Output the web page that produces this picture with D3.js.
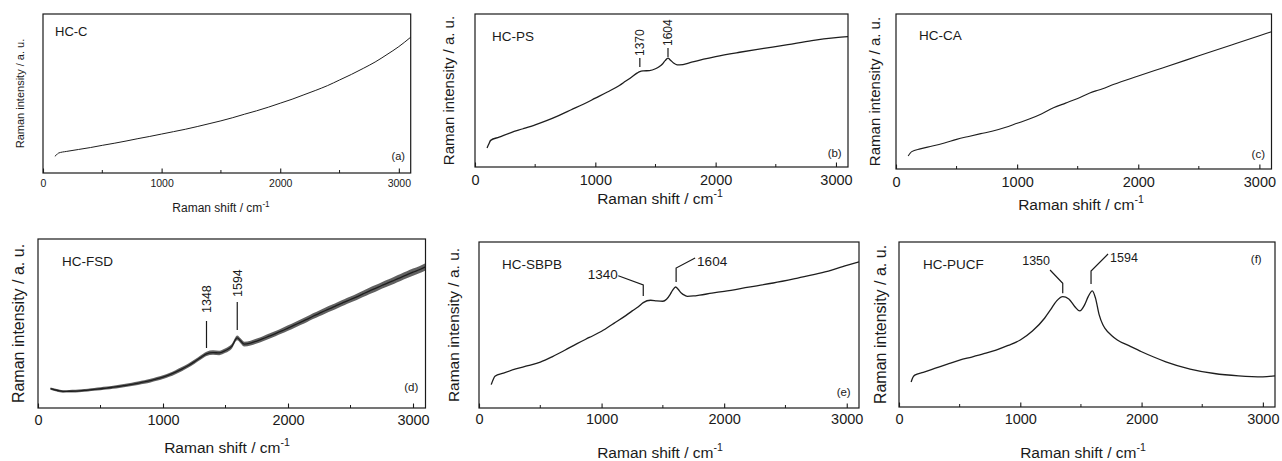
<!DOCTYPE html>
<html>
<head>
<meta charset="utf-8">
<script src="https://cdn.jsdelivr.net/npm/d3@7/dist/d3.min.js"></script>
<style>
  html, body { margin: 0; padding: 0; background: #fff; }
  svg { display: block; }
  text { font-family: "Liberation Sans", Arial, sans-serif; fill: #1a1a1a; }
</style>
</head>
<body>
<svg id="chart" width="1282" height="461"></svg>
<script>
// Raman spectra of six hard-carbon samples (relative intensity, arbitrary units)
const xTicks = [0, 1000, 2000, 3000];
const xMinorTicks = [500, 1500, 2500];
const xLabel = "Raman shift / cm";
const yLabel = "Raman intensity / a. u.";

const shiftA = [100,115,130,200,300,400,500,600,700,800,900,1000,1100,1200,1300,1400,1500,1600,1700,1800,1900,2000,2100,2200,2300,2400,2500,2600,2700,2800,2900,3000,3100];
const intensityA = [10.5,11.5,12.5,13.6,14.8,16.0,17.4,18.7,20.1,21.6,23.0,24.5,26.0,27.5,29.2,31.0,32.8,34.8,37.0,39.1,41.4,43.9,46.4,49.2,52.0,55.0,58.5,62.0,65.8,69.8,74.5,79.5,85.4];

const shiftB = [100,115,130,200,300,400,500,600,700,800,900,1000,1100,1200,1250,1300,1350,1370,1400,1450,1500,1530,1560,1580,1604,1625,1650,1680,1700,1800,1900,2000,2200,2400,2600,2800,3000,3100];
const intensityB = [12.4,15.0,17.4,19.5,22.5,25.0,27.6,30.5,33.8,37.4,41.0,45.0,49.0,53.3,56.0,58.7,61.5,62.4,62.8,63.0,64.2,65.5,67.5,69.5,71.1,69.8,68.0,66.8,66.7,68.5,70.5,72.2,75.0,77.5,80.0,82.6,84.5,85.2];
const peaksB = [1370, 1604];

const shiftC = [100,115,130,200,300,400,500,600,700,800,900,1000,1100,1200,1300,1400,1500,1600,1650,1700,1800,2000,2200,2400,2600,2800,3000,3100];
const intensityC = [8.4,10.0,11.2,13.0,14.8,16.8,19.1,21.0,22.8,24.5,26.8,29.5,32.2,35.5,39.5,42.5,45.5,49.0,50.4,51.6,54.7,60.0,65.2,70.4,75.6,80.8,86.0,88.6];

const shiftD = [100,150,200,250,300,350,400,450,500,550,600,650,700,750,800,850,900,950,1000,1050,1100,1150,1200,1250,1300,1348,1400,1450,1500,1550,1594,1620,1650,1700,1750,1800,1850,1900,1950,2000,2050,2100,2150,2200,2250,2300,2350,2400,2450,2500,2550,2600,2650,2700,2750,2800,2850,2900,2950,3000,3050,3100];
const intensityD = [11.5,10.5,9.8,9.9,10.0,10.3,10.6,11.0,11.4,11.8,12.3,12.8,13.4,14.0,14.7,15.4,16.2,17.2,18.3,19.6,21.2,23.0,25.0,27.3,29.8,32.0,32.8,32.6,34.0,36.5,41.5,39.8,37.8,38.4,39.6,41.0,42.5,44.0,45.6,47.3,49.0,50.7,52.4,54.3,56.0,57.7,59.3,61.0,62.6,64.2,65.8,67.5,69.2,70.8,72.5,74.0,75.6,77.2,78.8,80.4,81.8,83.5];
const peaksD = [1348, 1594];

const shiftE = [100,115,130,200,300,400,500,600,700,800,900,1000,1100,1200,1250,1300,1340,1400,1450,1500,1530,1560,1580,1604,1625,1650,1680,1700,1750,1800,1900,2000,2200,2400,2600,2800,3000,3100];
const intensityE = [14.1,17.0,19.1,21.0,23.5,25.5,27.7,31.0,34.8,38.8,42.5,46.2,51.0,55.8,58.5,61.0,63.5,64.9,64.5,64.3,65.5,68.5,71.0,72.9,71.5,69.3,67.8,67.3,67.5,68.0,69.2,70.3,72.8,75.3,78.3,81.5,85.9,88.0];
const peaksE = [1340, 1604];

const shiftF = [100,115,130,200,300,400,500,600,700,800,900,1000,1100,1200,1250,1300,1350,1400,1450,1490,1530,1560,1594,1620,1650,1680,1700,1750,1800,1900,2000,2100,2200,2400,2600,2800,3000,3100];
const intensityF = [15.2,18.0,19.3,21.0,23.5,26.0,28.4,30.3,32.3,34.5,37.3,40.6,46.0,53.8,59.0,64.3,66.9,65.5,60.8,58.2,61.9,66.9,70.4,66.0,56.0,50.0,47.5,43.5,40.6,37.0,33.5,30.3,27.4,23.0,20.3,18.9,18.3,18.9];
const peaksF = [1350, 1594];

// Panel geometry and typography
const panels = [
  { shift: shiftA, value: intensityA, name: "HC-C", letter: "(a)", stroke: 1.0,
    box: [43, 14, 410.7, 173], tickFs: 10.5, titleFs: 12, yFs: 11, nameFs: 13, letterFs: 11,
    tickDy: 14, titleDy: 39, titleX: 221, yX: 20, nameXY: [55, 36], letterXY: [405, 160] },
  { shift: shiftB, value: intensityB, name: "HC-PS", letter: "(b)", peaks: peaksB, peakStyle: "rotTick", stroke: 1.3,
    box: [475, 14, 848, 167], tickFs: 14.5, titleFs: 15.5, yFs: 15, nameFs: 13.5, letterFs: 11.5,
    tickDy: 18, titleDy: 37, titleX: 660, yX: 449, nameXY: [492, 40.5], letterXY: [841.7, 157],
    peakGeom: [{ line: [58, 67], textStart: 56 }, { line: [48, 57], textStart: 46 }], peakFs: 12 },
  { shift: shiftC, value: intensityC, name: "HC-CA", letter: "(c)", stroke: 1.1,
    box: [896, 14, 1271.5, 169], tickFs: 14.5, titleFs: 15.5, yFs: 15, nameFs: 13.5, letterFs: 11.5,
    tickDy: 18, titleDy: 41, titleX: 1081, yX: 875, nameXY: [919, 40], letterXY: [1265, 158] },
  { shift: shiftD, value: intensityD, name: "HC-FSD", letter: "(d)", peaks: peaksD, peakStyle: "rotLine", noisy: true, stroke: 1.3,
    box: [38, 239, 425.5, 408], tickFs: 14.5, titleFs: 15.5, yFs: 16, nameFs: 13.5, letterFs: 11.5,
    tickDy: 17, titleDy: 45, titleX: 227, yX: 18.5, nameXY: [62, 265.5], letterXY: [418.3, 391],
    peakGeom: [{ line: [321, 348], textStart: 313 }, { line: [302, 330], textStart: 297 }], peakFs: 12.5 },
  { shift: shiftE, value: intensityE, name: "HC-SBPB", letter: "(e)", peaks: peaksE, peakStyle: "leader", stroke: 1.3,
    box: [479, 242, 859, 408], tickFs: 14.5, titleFs: 15.5, yFs: 15.5, nameFs: 13.5, letterFs: 11.5,
    tickDy: 16, titleDy: 50, titleX: 660, yX: 453, nameXY: [502, 268.5], letterXY: [850.7, 396],
    peakGeom: [
      { pts: [[-25, 275.7], [0, 285], [0, 296]], text: [-25.5, 279], anchor: "end" },
      { pts: [[19.5, 258], [0.5, 268], [0.5, 282]], text: [21.5, 266], anchor: "start" }
    ], peakFs: 13.5 },
  { shift: shiftF, value: intensityF, name: "HC-PUCF", letter: "(f)", peaks: peaksF, peakStyle: "leader", stroke: 1.3,
    box: [899, 242, 1275, 407], tickFs: 14.5, titleFs: 15.5, yFs: 16, nameFs: 13.5, letterFs: 11.5,
    tickDy: 17, titleDy: 51, titleX: 1083, yX: 880, nameXY: [923, 268.5], letterXY: [1261.7, 263],
    peakGeom: [
      { pts: [[-12.7, 270], [0, 283.3], [0, 293.3]], text: [-12.7, 265], anchor: "end" },
      { pts: [[15.7, 254], [-1.3, 271], [-1.3, 284]], text: [17.7, 261.7], anchor: "start" }
    ], peakFs: 12.5 }
];

const svg = d3.select("#chart");
const ink = "#1a1a1a";

panels.forEach(p => {
  const [x0, y0, x1, y1] = p.box;
  const x = d3.scaleLinear().domain([0, 3100]).range([x0, x1]);
  const y = d3.scaleLinear().domain([0, 100]).range([y1, y0]);
  const g = svg.append("g");

  // spectrum trace
  const pts = p.shift.map((s, i) => [s, p.value[i]]);
  const line = d3.line().x(d => x(d[0])).y(d => y(d[1])).curve(d3.curveMonotoneX);
  if (p.noisy) {
    // detector noise widens the trace toward high shifts
    const spread = d3.scaleLinear().domain([0, 3100]).range([1.1, 3.6]);
    const band = d3.area().x(d => x(d[0]))
      .y0(d => y(d[1]) + spread(d[0])).y1(d => y(d[1]) - spread(d[0])).curve(d3.curveMonotoneX);
    g.append("path").datum(pts).attr("d", band).attr("fill", "#3a3a3a").attr("opacity", 0.8);
  }
  g.append("path").datum(pts).attr("d", line)
    .attr("fill", "none").attr("stroke", "#1e1e1e").attr("stroke-width", p.stroke).attr("stroke-linejoin", "round");

  // frame
  g.append("rect").attr("x", x0).attr("y", y0).attr("width", x1 - x0).attr("height", y1 - y0)
    .attr("fill", "none").attr("stroke", ink).attr("stroke-width", 1.2);

  // bottom axis: inward major and minor ticks
  const axis = d3.axisBottom(x).tickValues(xTicks).tickSizeInner(-4.5).tickSizeOuter(0).tickFormat(d3.format("d"));
  const ax = g.append("g").attr("transform", `translate(0,${y1})`).call(axis);
  ax.select(".domain").remove();
  ax.selectAll(".tick line").attr("stroke", ink).attr("stroke-width", 1.1);
  ax.selectAll(".tick text").attr("y", p.tickDy).attr("dy", null)
    .attr("font-size", p.tickFs).style("font-family", '"Liberation Sans", Arial, sans-serif').attr("fill", ink);
  g.selectAll(".minor").data(xMinorTicks).join("line")
    .attr("x1", d => x(d)).attr("x2", d => x(d)).attr("y1", y1).attr("y2", y1 - 3)
    .attr("stroke", ink).attr("stroke-width", 1);

  // axis titles
  const t = g.append("text").attr("x", p.titleX).attr("y", y1 + p.titleDy)
    .attr("text-anchor", "middle").attr("font-size", p.titleFs);
  t.append("tspan").text(xLabel);
  t.append("tspan").attr("dy", -p.titleFs * 0.42).attr("font-size", p.titleFs * 0.68).text("-1");

  g.append("text")
    .attr("transform", `translate(${p.yX + p.yFs * 0.36},${(y0 + y1) / 2}) rotate(-90)`)
    .attr("text-anchor", "middle").attr("font-size", p.yFs).text(yLabel);

  // sample name and panel letter
  g.append("text").attr("x", p.nameXY[0]).attr("y", p.nameXY[1]).attr("font-size", p.nameFs).text(p.name);
  g.append("text").attr("x", p.letterXY[0]).attr("y", p.letterXY[1]).attr("text-anchor", "end")
    .attr("font-size", p.letterFs).text(p.letter);

  // peak markers
  if (p.peaks) {
    p.peaks.forEach((pk, i) => {
      const geo = p.peakGeom[i];
      const px = x(pk);
      if (p.peakStyle === "rotTick" || p.peakStyle === "rotLine") {
        g.append("line").attr("x1", px).attr("x2", px).attr("y1", geo.line[0]).attr("y2", geo.line[1])
          .attr("stroke", ink).attr("stroke-width", 1.2);
        g.append("text")
          .attr("transform", `translate(${px + p.peakFs * 0.36},${geo.textStart}) rotate(-90)`)
          .attr("text-anchor", "start").attr("font-size", p.peakFs).text(pk);
      } else {
        g.append("polyline")
          .attr("points", geo.pts.map(q => `${px + q[0]},${q[1]}`).join(" "))
          .attr("fill", "none").attr("stroke", ink).attr("stroke-width", 1.2);
        g.append("text").attr("x", px + geo.text[0]).attr("y", geo.text[1])
          .attr("text-anchor", geo.anchor).attr("font-size", p.peakFs).text(pk);
      }
    });
  }
});
</script>
</body>
</html>
